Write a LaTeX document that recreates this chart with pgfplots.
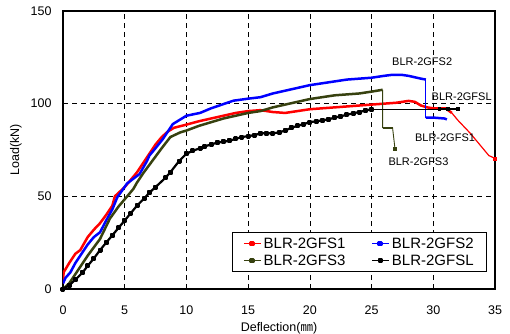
\documentclass[border=0pt]{standalone}
\usepackage{fontspec}
\setmainfont{Liberation Sans}
\newfontfamily\cjk{Noto Sans CJK KR}
\usepackage{pgfplots}
\pgfplotsset{compat=1.18}
\definecolor{olive3}{RGB}{55,65,15}
\begin{document}
\begin{tikzpicture}
\path[use as bounding box] (-63pt,-44pt) rectangle (447pt,289pt);
\begin{axis}[
  at={(0,0)}, anchor=south west,
  scale only axis, width=432pt, height=278pt,
  xmin=0, xmax=35, ymin=0, ymax=150,
  xtick={0,5,...,35}, ytick={0,50,100,150},
  major tick length=0pt,
  grid=major,
  major grid style={black, line width=0.6pt, dash pattern=on 5pt off 4pt},
  axis line style={line width=1.5pt},
  /pgf/number format/assume math mode=true,
  tick label style={font=\fontsize{12.5}{12.5}\selectfont},
  xticklabel style={yshift=-13pt},
  yticklabel style={xshift=-8pt},
  xlabel={Deflection({\cjk ㎜})},
  ylabel={Load(kN)},
  label style={font=\fontsize{12.5}{13}\selectfont},
  xlabel style={yshift=-1pt},
  ylabel style={yshift=2pt},
  legend columns=2,
  legend cell align=left,
  legend style={at={(0.9815,0.061)}, anchor=south east, font=\fontsize{15}{15}\selectfont,
    draw=black, line width=0.8pt, inner xsep=11pt, inner ysep=3pt, row sep=1pt,
    /tikz/every even column/.append style={column sep=24pt}},
  legend image code/.code={
    \draw[#1, line width=1.5pt] (0pt,0pt) -- (17pt,0pt);
    \fill[#1] (6.5pt,-1.4pt) rectangle (9.3pt,1.4pt);
  },
]
\addplot[red, line width=2.5pt, line join=round] coordinates {
(0,3) (0.05,9) (0.5,14) (1,19) (1.4,21) (2,28) (2.5,32) (3,35.5) (3.5,40) (4,45) (4.2,50)
(5,55) (5.5,59) (6,63) (6.5,68) (7,73) (7.5,78) (8,82) (8.5,85) (9,87) (10,88.7)
(11,90.5) (12,92) (13,93.5) (14,95) (15,96) (16,96.5) (17,95.5) (18,95) (19,96) (20,97)
(21,97.5) (22,98) (23,98.5) (24,99) (25,99.5) (26,100) (27,100.5) (28,101.5) (28.5,101)
(29,99) (29.5,98) (30,97.5) (31,97.5) (31.5,95)};
\addlegendentry{BLR-2GFS1}
\addplot[red, line width=1.2pt, forget plot] coordinates {(31.5,95) (32,91) (33,84) (34,76) (34.5,72) (35,70.5)};
\addplot[red, only marks, mark=square*, mark size=1.5pt, forget plot] coordinates {(35,70.5)};
\addplot[blue, line width=2.5pt, line join=round] coordinates {
(0,3) (0.2,6) (0.6,9) (1,14) (1.5,19) (2,24) (2.5,28) (3,30.6) (3.5,37) (4,43) (4.4,49.5)
(5.2,57) (6.2,62) (6.8,69) (7,72) (7.5,76) (8.1,81) (8.9,89) (10,93.5) (11.1,95) (12,97.5)
(13.8,101.6) (15,102.7) (16,103.5) (17,105.5) (18,107) (19,108.5) (20,110) (21,111)
(22,112) (23,113) (24,113.5) (25,114) (26,115) (26.7,115.6) (27.5,115.5) (28,115)
(29,113.5) (29.4,113)};
\addlegendentry{BLR-2GFS2}
\addplot[blue, line width=0.8pt, forget plot] coordinates {(29.4,113) (29.4,92.5)};
\addplot[blue, line width=2.5pt, forget plot] coordinates {(29.4,92.5) (30,92.5) (30.9,92) (31.1,91.5)};
\addplot[olive3, line width=2.5pt, line join=round] coordinates {
(0,0) (0.5,3) (1,8) (1.6,14) (2,18) (2.5,22.5) (3,27) (3.8,38) (4.5,44.5) (5.2,50) (5.7,54)
(6,57.5) (6.5,62.5) (7,67) (7.5,71.5) (8,76) (8.7,82) (9.5,84.5) (10,85.5) (11,88) (12,90)
(13,92) (14,93.5) (15,95) (16,96) (17,98) (18,99.5) (19,101) (20,102.5) (21,103.5)
(22,104.5) (23,105) (24,105.5) (25,106.5) (25.9,107.5)};
\addlegendentry{BLR-2GFS3}
\addplot[olive3, line width=0.9pt, forget plot] coordinates {(25.9,107.5) (25.9,87) (26.7,87) (26.9,75.5)};
\addplot[olive3, line width=2.5pt, forget plot] coordinates {(25.9,87) (26.7,87)};
\addplot[olive3, only marks, mark=square*, mark size=1.5pt, forget plot] coordinates {(26.9,75.5)};
\addplot[black, line width=2.2pt, line join=round, mark=square*, mark size=1.4pt] coordinates {
(0,0) (0.5,2) (1,5) (1.6,9) (2,12.5) (2.5,16.5) (3,21) (3.5,25) (4,29) (4.5,33) (5,37)
(5.5,41) (6,45) (6.6,49) (7,52) (7.5,55) (8.3,60) (8.7,63) (9.4,69) (10,73) (10.5,74.5) (11.1,76)
(11.5,77) (12,78) (12.5,79) (13,79.5) (13.5,80) (14,81) (14.5,82) (15,82.5) (15.5,83) (16,84) (16.5,84) (17,84) (17.5,84.5)
(18,85.5) (18.5,87) (19,88) (19.5,89) (20,90) (20.5,90.5) (21,91) (21.5,91.5)
(22,92.5) (22.5,93.2) (23,94) (23.5,94.8) (24,95.5) (24.5,96.3) (25,97)};
\addlegendentry{BLR-2GFSL}
\addplot[black, line width=0.8pt, forget plot] coordinates {(25,97) (31,97)};
\addplot[black, line width=1.5pt, mark=square*, mark size=1.2pt, forget plot] coordinates {(30.5,97) (31.2,97) (32,97)};
\node[font=\fontsize{11}{12}\selectfont] at (axis cs:29.1,122.6) {BLR-2GFS2};
\node[font=\fontsize{11}{12}\selectfont] at (axis cs:32.3,103.8) {BLR-2GFSL};
\node[font=\fontsize{11}{12}\selectfont] at (axis cs:30.95,81.7) {BLR-2GFS1};
\node[font=\fontsize{11}{12}\selectfont] at (axis cs:28.8,68.8) {BLR-2GFS3};
\end{axis}
\end{tikzpicture}
\end{document}
